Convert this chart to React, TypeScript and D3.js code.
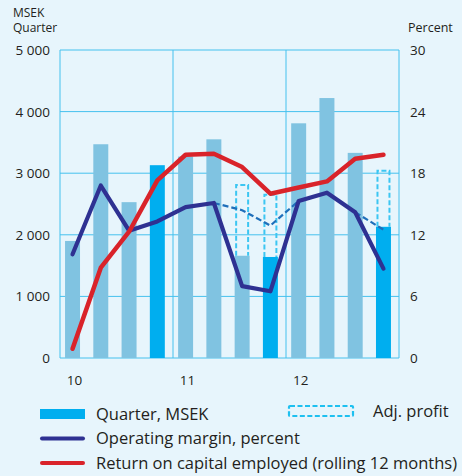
import React from "react";
import * as d3 from "d3";

const quarters = ["10Q1","10Q2","10Q3","10Q4","11Q1","11Q2","11Q3","11Q4","12Q1","12Q2","12Q3","12Q4"];
const yearLabels = ["10", "11", "12"];
const quarterProfit = [1900, 3470, 2530, 3130, 3270, 3550, 1660, 1640, 3810, 4220, 3330, 2130];
const adjProfit: (number | null)[] = [null, null, null, null, null, null, 2810, 2650, null, null, null, 3040];
const operatingMargin = [10.1, 16.8, 12.4, 13.3, 14.7, 15.1, 7.0, 6.5, 15.3, 16.1, 14.2, 8.7];
const adjMargin: (number | null)[] = [null, null, null, null, null, 15.1, 14.4, 12.9, 15.3, null, 14.2, 12.5];
const roce = [0.9, 8.8, 12.3, 17.3, 19.8, 19.9, 18.6, 16.0, 16.6, 17.2, 19.4, 19.8];
const leftTicks = [0, 1000, 2000, 3000, 4000, 5000];
const rightTicks = [0, 6, 12, 18, 24, 30];

const W = 462, H = 476;
const L = 60, R = 399, T = 50, B = 358;
const FONT = "'Open Sans', sans-serif";
const TXT = "#231F20";
const GRID = "#45C1EE";

export default function App() {
  const x = d3.scaleBand<string>().domain(quarters).range([58.4, 397.6]).paddingInner(0.47).paddingOuter(0.235);
  const xc = (i: number) => (x(quarters[i]) as number) + x.bandwidth() / 2;
  const xYear = d3.scaleLinear().domain([0, 3]).range([L, R]);
  const yL = d3.scaleLinear().domain([0, 5000]).range([B, T]);
  const yR = d3.scaleLinear().domain([0, 30]).range([B, T]);

  const fmt = (v: number) => (v >= 1000 ? `${Math.floor(v / 1000)} ${String(v % 1000).padStart(3, "0")}` : String(v));

  const lineM = d3.line<number>().x((_, i) => xc(i)).y((d) => yR(d));
  const lineAdj = d3.line<number | null>().defined((d) => d != null).x((_, i) => xc(i)).y((d) => yR(d as number));

  const bw = x.bandwidth();

  return (
    <svg width={W} height={H} style={{ position: "absolute", left: 0, top: 0, background: "#E7F5FC" }} fontFamily={FONT}>
      <rect x={0} y={0} width={W} height={H} fill="#E7F5FC" />
      {/* grid */}
      {leftTicks.map((t) => (
        <line key={"h" + t} x1={L} x2={R} y1={yL(t)} y2={yL(t)} stroke={GRID} strokeWidth={1} />
      ))}
      {[0, 1, 2, 3].map((k) => (
        <line key={"v" + k} x1={xYear(k)} x2={xYear(k)} y1={T} y2={B} stroke={GRID} strokeWidth={1} />
      ))}
      {/* bars */}
      {quarterProfit.map((v, i) => (
        <rect key={"b" + i} x={x(quarters[i])} width={bw} y={yL(v)} height={B - yL(v)}
          fill={i % 4 === 3 ? "#00AEEF" : "#80C3E1"} />
      ))}
      {/* adj boxes */}
      {adjProfit.map((v, i) => {
        if (v == null) return null;
        const x0 = (x(quarters[i]) as number) + 1.5;
        const x1 = (x(quarters[i]) as number) + bw - 1.5;
        const y0 = yL(v);
        const y1 = yL(quarterProfit[i]);
        return (
          <path key={"a" + i} d={`M${x0},${y1}V${y0}H${x1}V${y1}`} fill="none" stroke="#3CC6F2"
            strokeWidth={2} strokeDasharray="5,2.5" />
        );
      })}
      {/* lines */}
      <path d={lineAdj(adjMargin) || ""} fill="none" stroke="#1F6FBA" strokeWidth={2.2} strokeDasharray="6,3" />
      <path d={lineM(operatingMargin) || ""} fill="none" stroke="#2E3192" strokeWidth={4.2} strokeLinejoin="round" strokeLinecap="round" />
      <path d={lineM(roce) || ""} fill="none" stroke="#D9232A" strokeWidth={4.5} strokeLinejoin="round" strokeLinecap="round" />
      {/* axis labels */}
      {leftTicks.map((t) => (
        <text key={"lt" + t} x={50} y={yL(t) + 5} textAnchor="end" fontSize={13.5} fill={TXT}>{fmt(t)}</text>
      ))}
      {rightTicks.map((t) => (
        <text key={"rt" + t} x={410} y={yR(t) + 5} textAnchor="start" fontSize={13.5} fill={TXT}>{t}</text>
      ))}
      {yearLabels.map((lab, k) => (
        <text key={"yl" + k} x={xc(k * 4) + 2} y={385} textAnchor="middle" fontSize={13.5} fill={TXT}>{lab}</text>
      ))}
      <text x={13} y={16.5} fontSize={12} fill={TXT}>MSEK</text>
      <text x={13} y={32} fontSize={12} fill={TXT}>Quarter</text>
      <text x={408} y={32} fontSize={12.5} fill={TXT}>Percent</text>
      {/* legend */}
      <rect x={40} y={409} width={45} height={10} fill="#00AEEF" />
      <text x={96} y={420} fontSize={16.5} fill={TXT}>Quarter, MSEK</text>
      <rect x={289} y={406} width={64} height={10} fill="none" stroke="#1EC0F0" strokeWidth={2.2} strokeDasharray="5,2.5" rx={1} />
      <text x={373} y={417} fontSize={16.5} fill={TXT}>Adj. profit</text>
      <line x1={42} x2={83} y1={438.5} y2={438.5} stroke="#2E3192" strokeWidth={4} strokeLinecap="round" />
      <text x={96} y={444} fontSize={16.5} fill={TXT}>Operating margin, percent</text>
      <line x1={42} x2={83} y1={463} y2={463} stroke="#D9232A" strokeWidth={4} strokeLinecap="round" />
      <text x={96} y={469} fontSize={16.5} fill={TXT}>Return on capital employed (rolling 12 months)</text>
    </svg>
  );
}
